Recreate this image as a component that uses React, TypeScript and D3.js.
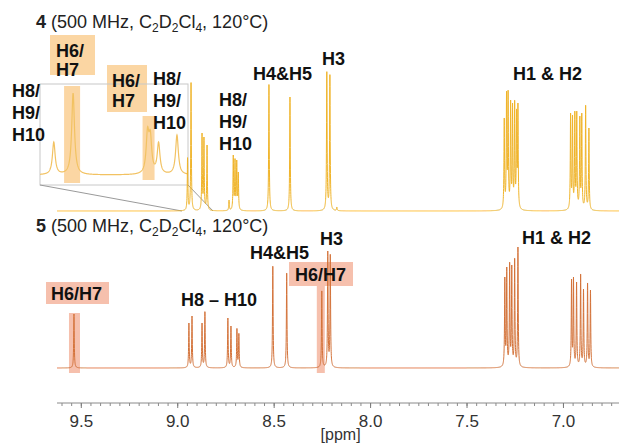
import React from "react";
import * as d3 from "d3";

const W = 619;
const H = 443;

// Compound 4 (top trace): peak shifts (ppm) and heights (arb. units)
const topPpm = [8.949, 8.931, 8.874, 8.864, 8.848, 8.734, 8.712, 8.703, 8.694, 8.686, 8.527, 8.418, 8.227, 8.211, 8.175,
  7.307, 7.295, 7.287, 7.274, 7.264, 7.253, 7.243, 7.236,
  6.963, 6.953, 6.941, 6.931, 6.915, 6.905, 6.885, 6.868];
const topHeight = [54, 130, 78, 74, 66, 11, 56, 53, 51, 39, 128, 114, 141, 138, 4,
  94, 121, 122, 111, 108, 112, 103, 108,
  99, 97, 101, 101, 96, 99, 107, 83];

// Compound 5 (bottom trace)
const botPpm = [9.538, 8.942, 8.926, 8.874, 8.859, 8.740, 8.724, 8.693, 8.683, 8.507, 8.435, 8.253, 8.222, 8.209,
  7.304, 7.294, 7.279, 7.268, 7.253, 7.236,
  6.958, 6.948, 6.932, 6.911, 6.896, 6.875, 6.860];
const botHeight = [54, 45, 52, 45, 57, 50, 42, 40, 35, 103, 96, 78, 117, 115,
  91, 101, 107, 103, 111, 121,
  89, 91, 86, 95, 79, 86, 78];

// Inset (expansion of compound 4 low-field region)
const insetPpm = [8.963, 8.942, 8.861, 8.858, 8.849, 8.829];
const insetHeight = [33, 82, 48, 45, 33, 40];

const tickLabels = [9.5, 9.0, 8.5, 8.0, 7.5, 7.0];

const PPM_LEFT = 9.626;
const PPM_RIGHT = 6.712;
const INSET_LEFT = 8.978;
const INSET_RIGHT = 8.817;
const GAMMA = 0.0018;

function lorentz(x: number, c: number) {
  const d = (x - c) / GAMMA;
  return 1 / (1 + d * d);
}

function fitAmplitudes(ppm: number[], h: number[]) {
  const a = h.slice();
  for (let it = 0; it < 25; it++) {
    for (let i = 0; i < ppm.length; i++) {
      let s = 0;
      for (let j = 0; j < ppm.length; j++) s += a[j] * lorentz(ppm[i], ppm[j]);
      a[i] *= h[i] / s;
    }
  }
  return a;
}

function spectrum(ppm: number[], h: number[], from: number, to: number, step: number) {
  const a = fitAmplitudes(ppm, h);
  const pts: [number, number][] = [];
  for (let x = from; x >= to - 1e-9; x -= step) {
    let s = 0;
    for (let j = 0; j < ppm.length; j++) s += a[j] * lorentz(x, ppm[j]);
    pts.push([x, s]);
  }
  return pts;
}

const FONT = "'Liberation Sans', Arial, sans-serif";
const TOP_COL = "#f0b429";
const BOT_COL = "#d4733a";
const TOP_HL = "#fbd6a3";
const BOT_HL = "#f6c0ad";

export default function App() {
  const x = d3.scaleLinear().domain([PPM_LEFT, PPM_RIGHT]).range([57, 619]);
  const yTop = d3.scaleLinear().domain([0, 150]).range([211, 61]);
  const yBot = d3.scaleLinear().domain([0, 150]).range([368, 218]);
  const xIn = d3.scaleLinear().domain([INSET_LEFT, INSET_RIGHT]).range([40, 188]);
  const yIn = d3.scaleLinear().domain([0, 100]).range([175, 75]);

  const topData = spectrum(topPpm, topHeight, PPM_LEFT, PPM_RIGHT, 0.0004);
  const botData = spectrum(botPpm, botHeight, PPM_LEFT, PPM_RIGHT, 0.0004);
  const inData = spectrum(insetPpm, insetHeight, INSET_LEFT, INSET_RIGHT, 0.0002);

  const lineTop = d3.line<[number, number]>().x(d => x(d[0])).y(d => yTop(d[1]))(topData) || "";
  const lineBot = d3.line<[number, number]>().x(d => x(d[0])).y(d => yBot(d[1]))(botData) || "";
  const lineIn = d3.line<[number, number]>().x(d => xIn(d[0])).y(d => yIn(d[1]))(inData) || "";

  const minor = d3.range(0, 59).map(i => +(9.6 - i * 0.05).toFixed(2)).filter(v => v <= PPM_LEFT && v >= PPM_RIGHT);
  const axisY = 403;

  const bold = { fontFamily: FONT, fontWeight: 700, fontSize: 18, fill: "#111" } as const;

  const title = (yy: number, num: string) => (
    <text x={36} y={yy} style={{ fontFamily: FONT, fontSize: 18, fill: "#222" }}>
      <tspan fontWeight={700}>{num}</tspan>
      <tspan> (500 MHz, C</tspan>
      <tspan fontSize={12} dy={4}>2</tspan>
      <tspan dy={-4}>D</tspan>
      <tspan fontSize={12} dy={4}>2</tspan>
      <tspan dy={-4}>Cl</tspan>
      <tspan fontSize={12} dy={4}>4</tspan>
      <tspan dy={-4}>, 120°C)</tspan>
    </text>
  );

  const multi = (xx: number, yy: number, lines: string[], lh = 22) => (
    <text x={xx} y={yy} style={bold}>
      {lines.map((l, i) => (
        <tspan key={i} x={xx} dy={i === 0 ? 0 : lh}>{l}</tspan>
      ))}
    </text>
  );

  return (
    <svg width={W} height={H} style={{ position: "absolute", left: 0, top: 0, background: "#fff" }}>
      <rect x={0} y={0} width={W} height={H} fill="#fff" />

      {/* top highlight */}
      <rect x={50} y={35} width={45} height={40} fill={TOP_HL} />
      <rect x={xIn(insetPpm[1]) - 9} y={86} width={16} height={97} fill={TOP_HL} />
      <rect x={107} y={65} width={40} height={47} fill={TOP_HL} />
      <rect x={xIn(insetPpm[2]) - 5} y={116} width={12} height={64} fill={TOP_HL} />

      {/* bottom highlight */}
      <rect x={46} y={282} width={63} height={22} fill={BOT_HL} />
      <rect x={x(botPpm[0]) - 5} y={313} width={11} height={60} fill={BOT_HL} />
      <rect x={289} y={262} width={64} height={24} fill={BOT_HL} />
      <rect x={x(botPpm[11]) - 5} y={285} width={8} height={88} fill={BOT_HL} />

      {/* inset */}
      <rect x={40} y={84} width={148} height={101} fill="none" stroke="#c8c8c8" strokeWidth={1} />
      <line x1={40} y1={185} x2={x(INSET_LEFT)} y2={yTop(0)} stroke="#9a9a9a" strokeWidth={1} />
      <line x1={188} y1={185} x2={x(INSET_RIGHT)} y2={yTop(0)} stroke="#9a9a9a" strokeWidth={1} />
      <path d={lineIn} fill="none" stroke="#f2c262" strokeWidth={1.2} />

      {/* spectra */}
      <path d={lineTop} fill="none" stroke={TOP_COL} strokeWidth={1} />
      <path d={lineBot} fill="none" stroke={BOT_COL} strokeWidth={1} />

      {/* titles */}
      {title(28, "4")}
      {title(232, "5")}

      {/* top labels */}
      {multi(56, 57, ["H6/", "H7"], 19)}
      {multi(112, 87, ["H6/", "H7"], 20)}
      {multi(12, 97, ["H8/", "H9/", "H10"])}
      {multi(153, 85, ["H8/", "H9/", "H10"])}
      {multi(219, 106, ["H8/", "H9/", "H10"])}
      <text x={253} y={80} style={bold}>H4&amp;H5</text>
      <text x={322} y={65} style={bold}>H3</text>
      <text x={513} y={80} style={bold}>H1 &amp; H2</text>

      {/* bottom labels */}
      <text x={51} y={300} style={bold}>H6/H7</text>
      <text x={181} y={306} style={bold}>H8 – H10</text>
      <text x={250} y={259} style={bold}>H4&amp;H5</text>
      <text x={295} y={281} style={bold}>H6/H7</text>
      <text x={320} y={245} style={bold}>H3</text>
      <text x={522} y={244} style={bold}>H1 &amp; H2</text>

      {/* axis */}
      <line x1={57} x2={619} y1={axisY} y2={axisY} stroke="#8a8a8a" strokeWidth={1} />
      {minor.map(v => (
        <line key={v} x1={x(v)} x2={x(v)} y1={axisY} y2={axisY + 3} stroke="#8a8a8a" strokeWidth={1} />
      ))}
      {tickLabels.map(v => (
        <g key={v}>
          <line x1={x(v)} x2={x(v)} y1={axisY} y2={axisY + 5} stroke="#7a7a7a" strokeWidth={1} />
          <text x={x(v)} y={427} textAnchor="middle" style={{ fontFamily: FONT, fontSize: 17, fill: "#333" }}>
            {v.toFixed(1)}
          </text>
        </g>
      ))}
      <text x={x(8.0) - 30} y={440} textAnchor="middle" style={{ fontFamily: FONT, fontSize: 16, fill: "#333" }}>[ppm]</text>
    </svg>
  );
}
